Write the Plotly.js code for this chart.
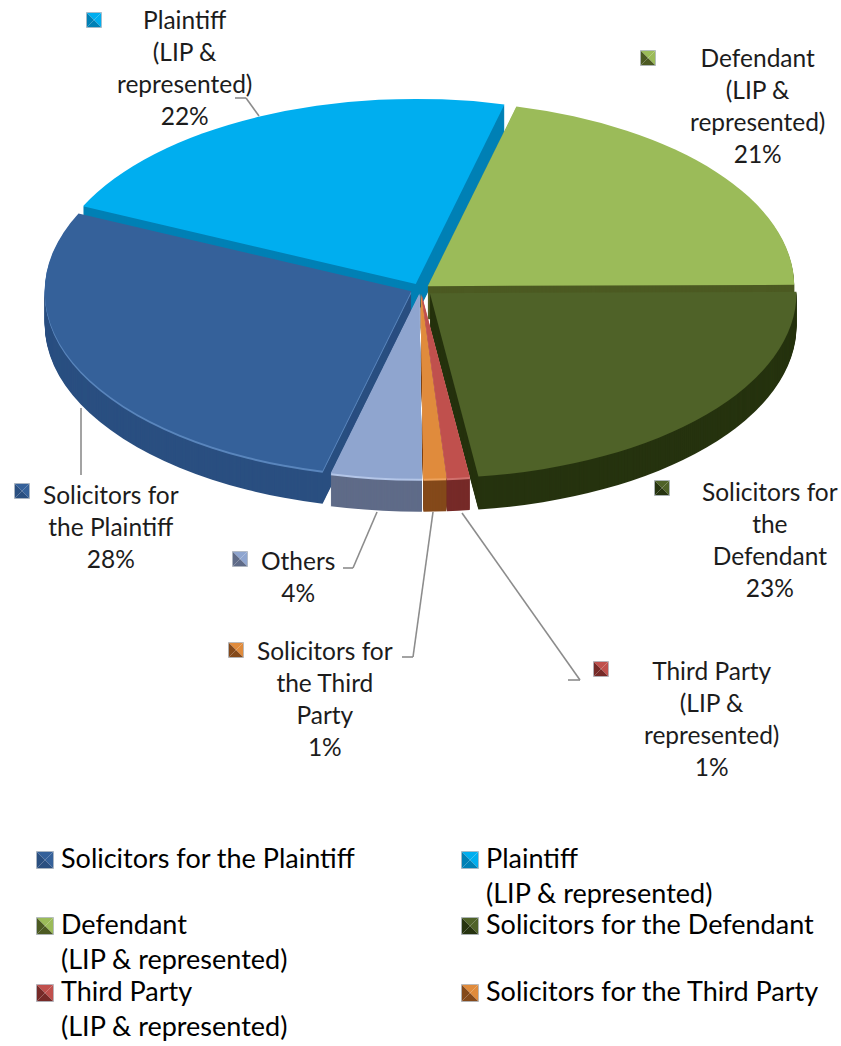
<!DOCTYPE html>
<html>
<head>
<meta charset="utf-8">
<script src="https://cdn.plot.ly/plotly-3.0.1.min.js"></script>
<style>html,body{margin:0;padding:0;background:#fff}</style>
</head>
<body>
<div id="chart" style="width:841px;height:1046px"></div>
<script>
// Who filed: share of parties, clockwise from the lower-left slice
const labels = ['Solicitors for the Plaintiff', 'Plaintiff<br>(LIP & represented)', 'Defendant<br>(LIP & represented)',
  'Solicitors for the Defendant', 'Third Party<br>(LIP & represented)', 'Solicitors for the Third Party', 'Others'];
const shares = [28, 22, 21, 23, 1, 1, 4];
const faceColors = ['#35619a', '#00aeef', '#9bbb59', '#4f6228', '#c0504d', '#e08b3c', '#8fa5cf'];
const rimColors  = ['#5a86bd', '#0080b5', '#4c5a22', '#26330f', '#d0706d', '#eda35f', '#b4c6e8'];
const sideColors = ['#2a4f80', '#0080b5', '#4c5a22', '#26330f', '#762a28', '#84491a', '#5f6b88'];
const pulls = [0.028, 0.03, 0.025, 0.034, 0.025, 0.025, 0.025];

// Data-label callouts, in slice order
const calloutText = [
  'Solicitors for<br>the Plaintiff<br>28%',
  'Plaintiff<br>(LIP &<br>represented)<br>22%',
  'Defendant<br>(LIP &<br>represented)<br>21%',
  'Solicitors for<br>the<br>Defendant<br>23%',
  'Third Party<br>(LIP &<br>represented)<br>1%',
  'Solicitors for<br>the Third<br>Party<br>1%',
  'Others<br>4%'
];
const calloutCenters = [[111, 526], [184, 68], [757, 106], [770, 539], [711, 718], [325, 698], [298, 576]];
const keyCenters = [[22, 491], [94, 20], [648, 58], [662, 488], [601, 669], [236, 650], [240, 559]];
const leaderPaths = [
  [[235, 98], [246, 98], [259, 116]],
  [[81, 408], [81, 475]],
  [[343, 568], [353, 568], [377, 512]],
  [[402, 657], [413, 657], [433, 512]],
  [[568, 680], [580, 680], [462, 513]]
];

// Legend block: two columns, three rows; the remaining entry falls below the page
const legendColumns = [61, 486];
const legendRowTops = [841, 907, 974];
const legendCount = 6;

const W = 841, H = 1046;
const cx = 420.5, cy = 289, rx = 379, squash = 0.505, depth = 33, rimDepth = 2;
const px = x => x / W, py = y => 1 - y / H;

function layer(colors) {
  return {
    type: 'pie', labels: labels, values: shares, sort: false, direction: 'clockwise', rotation: 194,
    pull: pulls, textinfo: 'none', hoverinfo: 'label+percent', showlegend: false,
    marker: {colors: colors, line: {width: 0}},
    domain: {x: [px(cx - rx), px(cx + rx)], y: [0, 1]}
  };
}

// A stack of flattened pies gives the disc its thickness; the face goes on last.
const traces = [];
for (let k = depth; k >= 1; k--) traces.push(layer(k <= rimDepth ? rimColors : sideColors));
traces.push(layer(faceColors));

const shapes = [], annotations = [];

function tri(pts, color) {
  const d = pts.map((p, i) => (i ? 'L' : 'M') + px(p[0]) + ',' + py(p[1])).join(' ') + ' Z';
  shapes.push({type: 'path', xref: 'paper', yref: 'paper', path: d, fillcolor: color, line: {width: 0}});
}

// Bevelled swatch: four triangles meeting at the centre, with a pale frame
function swatch(c, s, i) {
  const [x, y] = c, tl = [x - s, y - s], tr = [x + s, y - s], br = [x + s, y + s], bl = [x - s, y + s], m = [x, y];
  tri([tl, tr, m], faceColors[i]);
  tri([tr, br, m], faceColors[i]);
  tri([br, bl, m], sideColors[i]);
  tri([bl, tl, m], sideColors[i]);
  shapes.push({type: 'rect', xref: 'paper', yref: 'paper', x0: px(x - s), x1: px(x + s), y0: py(y - s), y1: py(y + s),
    line: {color: '#aeb6bf', width: 0.8}});
}

leaderPaths.forEach(p => {
  for (let i = 1; i < p.length; i++) {
    shapes.push({type: 'line', xref: 'paper', yref: 'paper', x0: px(p[i-1][0]), y0: py(p[i-1][1]),
      x1: px(p[i][0]), y1: py(p[i][1]), line: {color: '#8c8c8c', width: 1.6}});
  }
});

calloutText.forEach((t, i) => {
  swatch(keyCenters[i], 7.5, i);
  annotations.push({xref: 'paper', yref: 'paper', x: px(calloutCenters[i][0]), y: py(calloutCenters[i][1]),
    xanchor: 'center', yanchor: 'middle', align: 'center', showarrow: false, text: t,
    font: {family: 'Lato, sans-serif', size: 24.5, color: '#1c1c1c'}});
});

for (let i = 0; i < legendCount; i++) {
  const x = legendColumns[i % 2], top = legendRowTops[Math.floor(i / 2)];
  swatch([x - 16, top + 19], 8.5, i);
  annotations.push({xref: 'paper', yref: 'paper', x: px(x), y: py(top), xanchor: 'left', yanchor: 'top', align: 'left',
    showarrow: false, text: labels[i], font: {family: 'Lato, sans-serif', size: 27, color: '#000'}, borderpad: 0, borderwidth: 0});
}

const layout = {
  width: W, height: H, margin: {l: 0, r: 0, t: 0, b: 0, autoexpand: false},
  paper_bgcolor: '#fff', showlegend: false, shapes: shapes, annotations: annotations
};

Plotly.newPlot('chart', traces, layout, {displayModeBar: false, staticPlot: true}).then(() => {
  const groups = document.querySelectorAll('#chart .pielayer .trace');
  groups.forEach((g, i) => {
    const k = depth - i;           // the face group ends up at k = 0
    const ty = cy + k - (H / 2) * squash;
    g.setAttribute('transform', `translate(0,${ty}) scale(1,${squash})`);
  });
});
</script>
</body>
</html>
